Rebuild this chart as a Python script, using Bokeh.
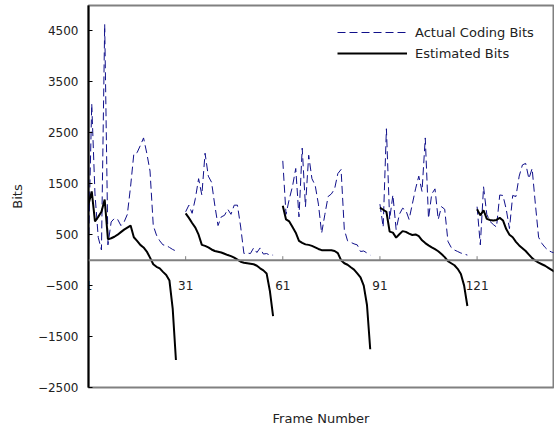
import numpy as np
from bokeh.plotting import figure
from bokeh.models import Range1d, FixedTicker, Span, Legend, LegendItem
from bokeh.core.properties import value
from bokeh.embed import file_html
from bokeh.resources import INLINE

# ---------------- data ----------------
gop_len = 30
n_frames = 145

actual_gop1 = [250, 3070, 1300, 450, 200, 4630, 300, 750, 820, 800, 680, 750, 900, 1450,
               2090, 2110, 2250, 2400, 2100, 1750, 680, 490, 380, 300, 290, 250, 210, 180]
actual_gop2 = [950, 1080, 920, 1210, 1600, 1280, 2100, 1650, 1530, 1080, 680, 850, 880, 1000,
               900, 1080, 1080, 650, 130, 140, 130, 240, 150, 240, 120, 130, 100, 100]
actual_gop3 = [1950, 900, 1200, 1450, 1800, 850, 2200, 1050, 2060, 1600, 1470, 1100, 530, 900,
               1250, 1300, 1400, 1700, 1780, 600, 380, 350, 320, 300, 170, 180, 140, 100]
actual_gop4 = [1100, 650, 2580, 800, 1280, 600, 900, 1020, 980, 800, 1100, 1400, 1650, 1350,
               2400, 820, 1300, 1400, 800, 1050, 1000, 370, 250, 200, 170, 140, 120, 100]
actual_gop5 = [1050, 300, 1440, 900, 760, 700, 650, 1280, 1270, 1000, 620, 1270, 1250, 1650,
               1870, 1900, 1600, 1800, 1100, 450, 330, 250, 190, 160, 140]

est_gop1 = [1100, 1350, 760, 850, 950, 1190, 410, 430, 460, 500, 550, 600, 640, 680,
            450, 380, 300, 250, 170, 50, -80, -130, -160, -230, -290, -400, -950, -1960]
est_gop2 = [920, 830, 730, 640, 500, 300, 280, 250, 210, 180, 165, 150, 125, 100,
            80, 50, 10, -30, -50, -60, -70, -80, -110, -160, -200, -260, -600, -1100]
est_gop3 = [1070, 800, 760, 650, 540, 380, 340, 310, 300, 280, 250, 220, 196, 196,
            196, 196, 180, 137, 0, -60, -90, -140, -185, -260, -340, -500, -880, -1750]
est_gop4 = [1030, 990, 950, 560, 540, 443, 510, 570, 555, 520, 495, 505, 470, 390,
            335, 290, 250, 215, 175, 120, 60, -20, -60, -100, -170, -270, -500, -900]
est_gop5 = [1000, 880, 980, 810, 790, 780, 790, 830, 780, 610, 500, 450, 360, 290,
            235, 180, 110, 40, -10, -50, -80, -110, -150, -190, -230]

x_tick_labels = ["1", "31", "61", "91", "121"]
y_ticks = [-2500, -1500, -500, 500, 1500, 2500, 3500, 4500]

series_names = ["Actual Coding Bits", "Estimated Bits"]


def build(gops):
    vals = []
    for g in gops:
        vals.extend(list(g) + [np.nan] * (gop_len - len(g)))
    return vals[:n_frames]


frames = list(range(1, n_frames + 1))
actual = build([actual_gop1, actual_gop2, actual_gop3, actual_gop4, actual_gop5])
estimated = build([est_gop1, est_gop2, est_gop3, est_gop4, est_gop5])

# ---------------- figure ----------------
Y0, Y1 = -2500, 5000
FRAME_H = 428 - 5 - 38

p = figure(width=554, height=428, output_backend="svg", toolbar_location=None,
           x_range=Range1d(1, 144.6), y_range=Range1d(Y0, Y1),
           min_border_left=88, min_border_right=1, min_border_top=5, min_border_bottom=38)
p.grid.visible = False
p.background_fill_color = "white"
p.border_fill_color = "white"
p.outline_line_color = "#808080"
p.outline_line_width = 2

FONT = "DejaVu Sans"
TXT = "#222222"

# y axis
ya = p.yaxis[0]
ya.ticker = FixedTicker(ticks=y_ticks)
ya.major_label_overrides = {t: str(t).replace("-", "\u2212") for t in y_ticks}
ya.axis_line_color = "black"
ya.axis_line_width = 2
ya.major_tick_in = 4
ya.major_tick_out = 0
ya.major_tick_line_color = "black"
ya.major_tick_line_width = 1
ya.minor_tick_line_color = None
ya.major_label_text_font = FONT
ya.major_label_text_font_size = "12px"
ya.major_label_text_color = TXT
ya.major_label_standoff = 10
ya.axis_label = "Bits"
ya.axis_label_text_font = FONT
ya.axis_label_text_font_size = "13px"
ya.axis_label_text_font_style = "normal"
ya.axis_label_text_color = TXT
ya.axis_label_standoff = 10

# x axis (only the title; the category axis is drawn at y = 0)
xa = p.xaxis[0]
xa.ticker = FixedTicker(ticks=[])
xa.axis_line_color = None
xa.major_tick_line_color = None
xa.minor_tick_line_color = None
xa.major_tick_out = 0
xa.major_tick_in = 0
xa.major_label_standoff = 0
xa.axis_label = "Frame Number"
xa.axis_label_text_font = FONT
xa.axis_label_text_font_size = "13px"
xa.axis_label_text_font_style = "normal"
xa.axis_label_text_color = TXT
xa.axis_label_standoff = 23

# zero line with category ticks and labels
p.add_layout(Span(location=0, dimension="width", line_color="#808080", line_width=2))
tick_frames = [int(s) for s in x_tick_labels]
tick_len = 4 * (Y1 - Y0) / FRAME_H
p.segment(x0=tick_frames, y0=[0] * len(tick_frames), x1=tick_frames,
          y1=[tick_len] * len(tick_frames), line_color="#808080", line_width=1)
p.text(x=tick_frames, y=[0] * len(tick_frames), text=x_tick_labels,
       text_align="center", text_baseline="middle", y_offset=25,
       text_font=value(FONT), text_font_size="12px", text_color=TXT)

# series
r_act = p.line(frames, actual, line_color="#10108a", line_width=1, line_dash="8 4")
r_est = p.line(frames, estimated, line_color="black", line_width=2)

legend = Legend(items=[LegendItem(label=series_names[0], renderers=[r_act]),
                       LegendItem(label=series_names[1], renderers=[r_est])],
                location=(249, 324), glyph_width=70, glyph_height=20, label_height=20,
                label_standoff=8, spacing=1, padding=0, margin=0,
                border_line_color=None, background_fill_alpha=0,
                label_text_font=FONT, label_text_font_size="13px", label_text_color=TXT)
p.add_layout(legend)

open("out.html", "w").write(file_html(p, INLINE))
